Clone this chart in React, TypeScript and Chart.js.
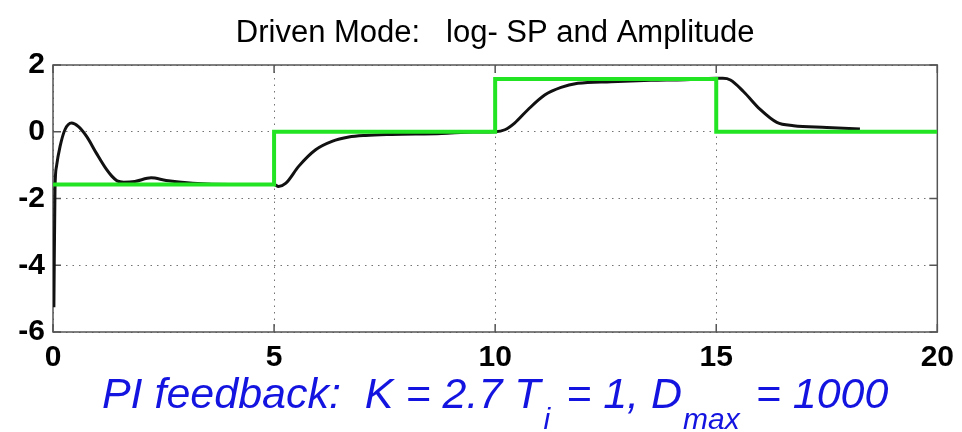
import React, { useEffect, useRef } from "react";
import { Chart, registerables } from "chart.js";

Chart.register(...registerables);

// Measured response (black) – time and log amplitude
const respTime = [
  0.02, 0.045, 0.08, 0.16, 0.27, 0.42, 0.57, 0.76, 0.98, 1.21, 1.33, 1.45, 1.6, 1.85, 2.22, 2.56, 3.16, 4.0, 5.0,
  5.1, 5.26, 5.56, 5.94, 6.31, 6.69, 7.07, 7.66, 8.79, 9.5, 10.0,
  10.22, 10.44, 10.74, 11.12, 11.49, 11.87, 12.62, 13.52, 14.3, 15.0,
  15.15, 15.32, 15.62, 16.0, 16.37, 16.75, 17.5, 18.25,
];
const respValue = [
  -5.26, -1.73, -1.03, -0.44, 0.06, 0.26, 0.16, -0.14, -0.64, -1.13, -1.33, -1.47, -1.51, -1.49, -1.38, -1.46, -1.54, -1.58, -1.58,
  -1.64, -1.55, -1.03, -0.54, -0.29, -0.16, -0.11, -0.08, -0.05, -0.01, 0.0,
  0.06, 0.26, 0.66, 1.1, 1.33, 1.45, 1.5, 1.54, 1.56, 1.6,
  1.6, 1.55, 1.2, 0.66, 0.28, 0.18, 0.13, 0.08,
];

// Set point (green) – step sequence
const spTime = [0, 5, 5, 10, 10, 15, 15, 20];
const spValue = [-1.58, -1.58, 0, 0, 1.58, 1.58, 0, 0];

const xTicks = [0, 5, 10, 15, 20];
const yTicks = [-6, -4, -2, 0, 2];

const titleText = "Driven Mode:   log- SP and Amplitude";

const FONT = "'Liberation Sans', Arial, Helvetica, sans-serif";

const decorPlugin = {
  id: "decor",
  beforeDatasetsDraw(chart: any) {
    const { ctx, chartArea: a, scales } = chart;
    ctx.save();
    ctx.strokeStyle = "#555";
    ctx.lineWidth = 1.5;
    ctx.setLineDash([]);
    ctx.strokeRect(a.left, a.top, a.right - a.left, a.bottom - a.top);
    const tl = 8;
    ctx.beginPath();
    xTicks.forEach((v) => {
      const x = scales.x.getPixelForValue(v);
      ctx.moveTo(x, a.bottom);
      ctx.lineTo(x, a.bottom - tl);
      ctx.moveTo(x, a.top);
      ctx.lineTo(x, a.top + tl);
    });
    yTicks.forEach((v) => {
      const y = scales.y.getPixelForValue(v);
      ctx.moveTo(a.left, y);
      ctx.lineTo(a.left + tl, y);
      ctx.moveTo(a.right, y);
      ctx.lineTo(a.right - tl, y);
    });
    ctx.stroke();
    ctx.restore();
  },
  afterDraw(chart: any) {
    const { ctx, chartArea: a } = chart;
    const cx = (a.left + a.right) / 2;
    ctx.save();
    // Title
    ctx.fillStyle = "#000";
    ctx.font = `31px ${FONT}`;
    ctx.textAlign = "center";
    ctx.textBaseline = "alphabetic";
    ctx.fillText(titleText, cx, 42);

    // Bottom annotation with subscripts
    const mainFont = `italic 43px ${FONT}`;
    const subFont = `italic 30px ${FONT}`;
    const parts: { t: string; sub: boolean; gap: number }[] = [
      { t: "PI feedback:  K = 2.7 T", sub: false, gap: 0 },
      { t: "i", sub: true, gap: 3 },
      { t: " = 1, D", sub: false, gap: 4 },
      { t: "max", sub: true, gap: 1 },
      { t: " = 1000", sub: false, gap: 4 },
    ];
    let total = 0;
    const widths = parts.map((p) => {
      ctx.font = p.sub ? subFont : mainFont;
      const w = ctx.measureText(p.t).width;
      total += w + p.gap;
      return w;
    });
    let x = cx - total / 2;
    ctx.textAlign = "left";
    ctx.fillStyle = "#1414e0";
    parts.forEach((p, i) => {
      x += p.gap;
      ctx.font = p.sub ? subFont : mainFont;
      ctx.fillText(p.t, x, p.sub ? 429 : 408);
      x += widths[i];
    });
    ctx.restore();
  },
};

export default function App() {
  const ref = useRef<HTMLCanvasElement | null>(null);
  useEffect(() => {
    document.body.style.margin = "0";
    const canvas = ref.current;
    if (!canvas) return;
    const respData = respTime.map((t, i) => ({ x: t, y: respValue[i] }));
    const spData = spTime.map((t, i) => ({ x: t, y: spValue[i] }));
    const tickFont = { family: FONT, size: 30, weight: "bold" as const };
    const chart = new Chart(canvas, {
      type: "line",
      data: {
        datasets: [
          {
            label: "SP",
            data: spData,
            borderColor: "#22e422",
            borderWidth: 4,
            pointRadius: 0,
            tension: 0,
            fill: false,
          },
          {
            label: "Amplitude",
            data: respData,
            borderColor: "#111",
            borderWidth: 3,
            pointRadius: 0,
            cubicInterpolationMode: "monotone",
            fill: false,
          },
        ],
      },
      options: {
        animation: false,
        responsive: false,
        devicePixelRatio: 1,
        layout: { padding: { top: 65, right: 21, left: 0, bottom: 0 } },
        plugins: {
          legend: { display: false },
          title: { display: false },
          tooltip: { enabled: false },
        },
        scales: {
          x: {
            type: "linear",
            min: 0,
            max: 20,
            afterBuildTicks: (s: any) => {
              s.ticks = xTicks.map((v) => ({ value: v }));
            },
            afterFit: (s: any) => {
              s.height = 100;
            },
            grid: {
              color: "rgba(100,100,100,0.9)",
              lineWidth: 1,
              drawTicks: false,
            },
            border: { display: false, dash: [1.5, 5] },
            ticks: {
              font: tickFont,
              color: "#000",
              padding: 8,
              maxRotation: 0,
              autoSkip: false,
            },
          },
          y: {
            type: "linear",
            min: -6,
            max: 2,
            afterBuildTicks: (s: any) => {
              s.ticks = yTicks.map((v) => ({ value: v }));
            },
            afterFit: (s: any) => {
              s.width = 53;
            },
            grid: {
              color: "rgba(100,100,100,0.9)",
              lineWidth: 1,
              drawTicks: false,
            },
            border: { display: false, dash: [1.5, 5] },
            ticks: {
              font: tickFont,
              color: "#000",
              padding: 8,
              autoSkip: false,
            },
          },
        },
      },
      plugins: [decorPlugin],
    });
    return () => chart.destroy();
  }, []);
  return (
    <div style={{ width: 962, height: 432, background: "#fff" }}>
      <canvas ref={ref} width={962} height={432} style={{ display: "block" }} />
    </div>
  );
}
